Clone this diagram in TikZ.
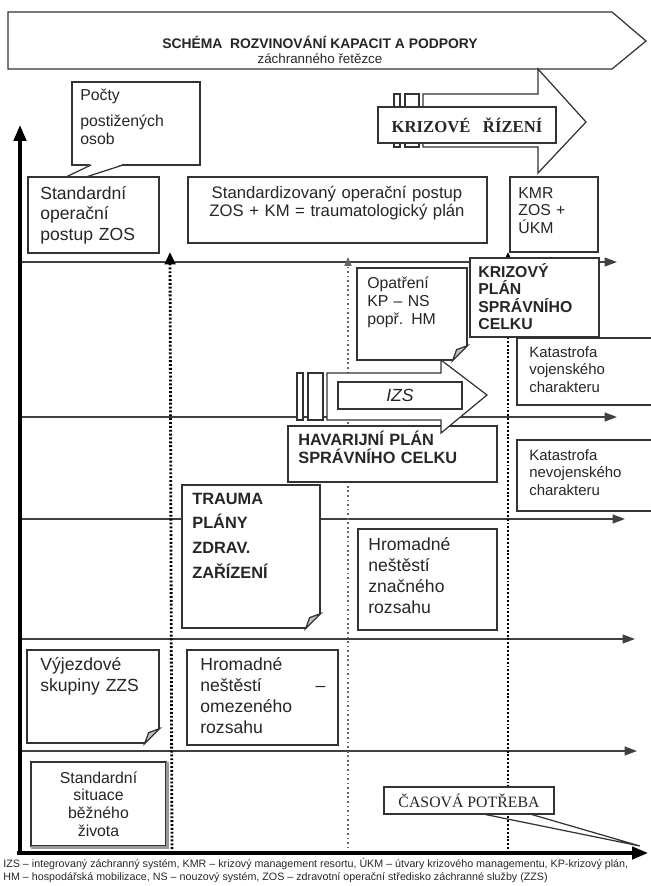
\documentclass[tikz,border=0pt]{standalone}
\usepackage{fontspec}
\setmainfont{Liberation Sans}
\newfontfamily\timesfont{Liberation Serif}
\usetikzlibrary{arrows.meta,fit}

% folded corner at the lower right of a box
\newcommand{\foldcorner}[1]{%
  \fill[white] ([shift={(-16,1.5)}]#1.south east) -- ([shift={(1.5,1.5)}]#1.south east) -- ([shift={(1.5,-16)}]#1.south east) -- cycle;
  \draw[draw=black!80, line width=0.7pt, fill=black!25] ([shift={(-15,0)}]#1.south east) -- ([shift={(0,-15)}]#1.south east) -- ([shift={(-11,-11)}]#1.south east) -- cycle;
}

\begin{document}
\begin{tikzpicture}[x=0.02cm, y=-0.02cm,
  every node/.style={text=black!85},
  box/.style={draw=black!80, line width=0.7pt, fill=white, inner sep=0pt},
  lbl/.style={align=left, inner sep=0pt, anchor=base west, text width=3cm},
  ctr/.style={align=center, inner sep=0pt, anchor=base},
  shape arrow/.style={draw=black!80, line width=0.7pt, fill=white},
  level/.style={draw=black!75, line width=0.9pt, -{Triangle[length=7pt,width=5pt]}},
  bigdots/.style={line width=1.6pt, dash pattern=on 1.1pt off 1.1pt, -{Triangle[length=7pt,width=6pt]}},
  smalldots/.style={draw=black!60, line width=0.6pt, dash pattern=on 1pt off 1.6pt, -{Triangle[length=5pt,width=4pt]}}]

\useasboundingbox (0,0) rectangle (650,886);

% levels of the scheme
\foreach \yy/\xe in {262/617, 417/617, 519/625, 639/635, 751/637}
  \draw[level] (20,\yy) -- (\xe,\yy);

% time marks
\draw[bigdots] (172,853) -- (170,252);
\draw[smalldots] (348,853) -- (348,257);
\draw[bigdots] (508,853) -- (508,252);

% axes
\draw[line width=1.8pt, -{Triangle[length=9pt,width=7pt]}] (20,853) -- (20,125);
\draw[line width=1.8pt, -{Triangle[length=9pt,width=7pt]}] (17,853) -- (648,853);

% title arrow
\draw[shape arrow] (8,12) -- (612,12) -- (646,41) -- (612,69) -- (8,69) -- cycle;
\node[font=\fontsize{7.9}{9}\selectfont\bfseries] (title) at (320,42) {SCHÉMA\ \ ROZVINOVÁNÍ KAPACIT A PODPORY};
\node[font=\fontsize{7.6}{9}\selectfont] (subtitle) at (320,59) {záchranného řetězce};

% krizove rizeni
\draw[shape arrow] (423,94) -- (538,94) -- (538,69) -- (586,122) -- (538,173) -- (538,147) -- (423,147) -- cycle;
\draw[shape arrow] (394,94) rectangle (400,147);
\draw[shape arrow] (405,94) rectangle (419,147);
\node[box, fit={(378,107)(556,143)}] (krizr) {};
\node[font=\fontsize{9.5}{11}\selectfont\timesfont\bfseries] at (krizr.center) {KRIZOVÉ\ \ \ ŘÍZENÍ};

% pocty postizenych osob
\node[box, fit={(72,82)(200,165)}] (pocty) {};
\node[lbl, font=\fontsize{9}{10.3}\selectfont] at (80,100) {Počty\\[5pt]postižených\\osob};
\fill[white] (91,164) -- (66,178) -- (86,178) -- (123,164) -- cycle;
\draw[black!80, line width=0.7pt] (91,165) -- (66,177);
\draw[black!80, line width=0.7pt] (123,165) -- (86,177);

% top row
\node[box, fit={(28,177)(159,253)}] (zos) {};
\node[lbl, font=\fontsize{10}{11.9}\selectfont] at (40,199) {Standardní\\operační\\postup ZOS};

\node[box, fit={(188,177)(487,243)}] (sop) {};
\node[ctr, text width=5.8cm, font=\fontsize{9.5}{10.8}\selectfont] at (337,198) {Standardizovaný operační postup\\ZOS + KM = traumatologický plán};

\node[box, fit={(510,177)(598,252)}] (kmr) {};
\node[lbl, font=\fontsize{9}{10}\selectfont] at (518,198) {KMR\\ZOS +\\ÚKM};

% krizovy plan, opatreni, katastrofy
\node[box, line width=1.2pt, fit={(470,258)(599,337)}] (kpsc) {};
\node[lbl, font=\fontsize{9}{10}\selectfont\bfseries] at (478,277) {KRIZOVÝ\\PLÁN\\SPRÁVNÍHO\\CELKU};

\node[box, fit={(517,338)(655,405)}] (katv) {};
\node[lbl, font=\fontsize{8.5}{10.2}\selectfont] at (529,357) {Katastrofa\\vojenského\\charakteru};

\node[box, fit={(517,440)(655,511)}] (katn) {};
\node[lbl, font=\fontsize{8.5}{10.2}\selectfont] at (529,460) {Katastrofa\\nevojenského\\charakteru};

% havarijni plan and IZS
\node[box, fit={(288,426)(497,482)}] (hav) {};
\node[lbl, text width=4cm, font=\fontsize{9.3}{10.3}\selectfont\bfseries] at (298,445) {HAVARIJNÍ PLÁN\\SPRÁVNÍHO CELKU};

\draw[shape arrow] (327,373) -- (441,373) -- (441,360) -- (487,395) -- (441,433) -- (441,420) -- (327,420) -- cycle;
\draw[shape arrow] (297,373) rectangle (303,420);
\draw[shape arrow] (308,373) rectangle (323,420);
\node[box, fit={(338,382)(462,409)}] (izs) {};
\node[font=\fontsize{10}{12}\selectfont\itshape] at (izs.center) {IZS};

\node[box, fit={(357,268)(467,360)}] (opatr) {};
\node[lbl, font=\fontsize{9}{10.5}\selectfont] at (367,288) {Opatření\\KP – NS\\popř. HM};
\foldcorner{opatr}

% trauma plany and hromadne nestesti
\node[box, fit={(182,485)(320,628)}] (trauma) {};
\node[lbl, font=\fontsize{9.3}{14.2}\selectfont\bfseries] at (192,504) {TRAUMA\\PLÁNY\\ZDRAV.\\ZAŘÍZENÍ};
\foldcorner{trauma}

\node[box, fit={(358,529)(497,630)}] (hnz) {};
\node[lbl, font=\fontsize{10}{12}\selectfont] at (368,550) {Hromadné\\neštěstí\\značného\\rozsahu};

% lower rows
\node[box, fit={(27,650)(159,743)}] (vyj) {};
\node[lbl, font=\fontsize{10}{12.4}\selectfont] at (40,670) {Výjezdové\\skupiny ZZS};
\foldcorner{vyj}

\node[box, fit={(187,650)(338,745)}] (hno) {};
\node[lbl, text width=2.5cm, font=\fontsize{10}{12}\selectfont] at (200,670) {Hromadné\\neštěstí\hfill–\hspace*{8pt}\\omezeného\\rozsahu};

\node[box, fit={(31,762)(166,846)}] (sit) {};
\draw[black!40, line width=1.4pt] ([shift={(1,1)}]sit.north east) -- ([shift={(1,1)}]sit.south east) -- ([shift={(1,1)}]sit.south west);
\node[ctr, text width=2.6cm, font=\fontsize{9}{10.2}\selectfont] at (sit.center |- 0,783) {Standardní\\situace\\běžného\\života};

% casova potreba
\node[box, fit={(384,787)(554,814)}] (cas) {};
\node[font=\fontsize{9}{11}\selectfont\timesfont] at (cas.center) {ČASOVÁ POTŘEBA};
\draw[black!80, line width=0.7pt] (483,814) -- (640,846) -- (530,814);

% legend
\node[anchor=north west, inner sep=0pt, align=left, font=\fontsize{6.1}{7.4}\selectfont] (foot) at (3,858) {IZS – integrovaný záchranný systém, KMR – krizový management resortu, ÚKM – útvary krizového managementu, KP-krizový plán,\\HM – hospodářská mobilizace, NS – nouzový systém, ZOS – zdravotní operační středisko záchranné služby (ZZS)};

\end{tikzpicture}
\end{document}
